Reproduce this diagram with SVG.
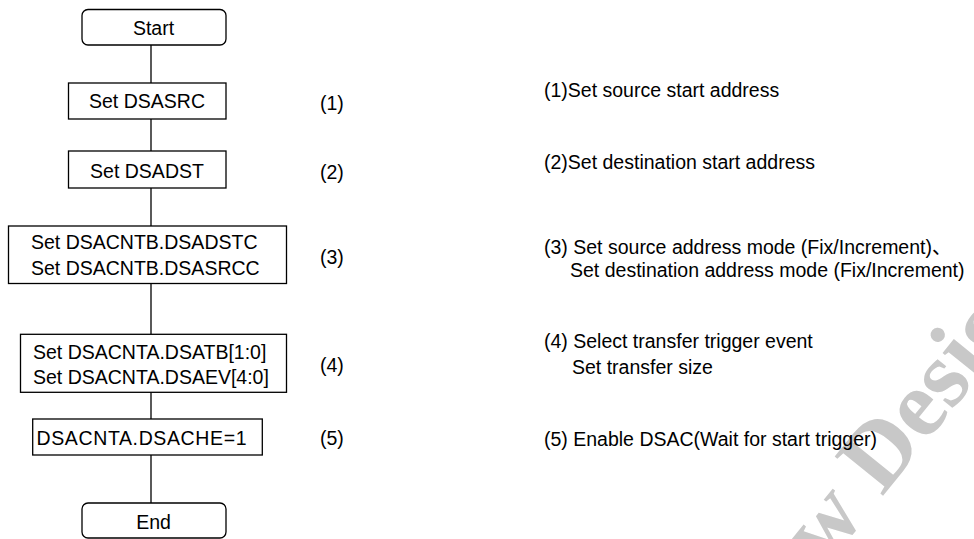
<svg xmlns="http://www.w3.org/2000/svg" width="974" height="539" viewBox="0 0 974 539">
<style>
.b{fill:#fff;stroke:#000;stroke-width:1.3}
.t{font-family:"Liberation Sans","Noto Sans CJK JP",Arial,sans-serif;font-size:19.5px;fill:#000}
.m{text-anchor:middle}
.c{stroke:#000;stroke-width:1.3;fill:none}
.wm{font-family:"Liberation Serif",serif;font-weight:bold;font-size:95px;fill:#c8c8c8}
</style>
<rect width="974" height="539" fill="#fff"/>
<g id="watermark" transform="translate(882,497) rotate(-51)"><text class="wm" x="-140" y="0">ow Design</text></g>
<g id="connectors">
<line class="c" x1="151" y1="45" x2="151" y2="83"/>
<line class="c" x1="151" y1="119" x2="151" y2="151"/>
<line class="c" x1="151" y1="188" x2="151" y2="226"/>
<line class="c" x1="151" y1="283" x2="151" y2="334"/>
<line class="c" x1="151" y1="392" x2="151" y2="419"/>
<line class="c" x1="151" y1="455" x2="151" y2="503"/>
</g>
<g id="start"><rect class="b" x="82" y="9.5" width="144" height="35.5" rx="6"/><text class="t m" x="153.5" y="34.5">Start</text></g>
<g id="n1"><rect class="b" x="68.5" y="83" width="157.5" height="36"/><text class="t m" x="147" y="108.3">Set DSASRC</text></g>
<g id="n2"><rect class="b" x="68.5" y="151" width="157.5" height="37"/><text class="t m" x="147" y="177.7">Set DSADST</text></g>
<g id="n3"><rect class="b" x="8.5" y="226" width="278" height="57.5"/><text class="t" x="31" y="249.3">Set DSACNTB.DSADSTC</text><text class="t" x="31" y="275">Set DSACNTB.DSASRCC</text></g>
<g id="n4"><rect class="b" x="20.5" y="334.3" width="266" height="58"/><text class="t" x="33" y="359.3">Set DSACNTA.DSATB[1:0]</text><text class="t" x="33" y="384.3">Set DSACNTA.DSAEV[4:0]</text></g>
<g id="n5"><rect class="b" x="32.7" y="419" width="229.6" height="36"/><text class="t" x="36.5" y="445" textLength="210">DSACNTA.DSACHE=1</text></g>
<g id="end"><rect class="b" x="82" y="503" width="144" height="35" rx="6"/><text class="t m" x="153.5" y="529">End</text></g>
<g id="labels">
<text class="t" x="320" y="110">(1)</text>
<text class="t" x="320" y="178.5">(2)</text>
<text class="t" x="320" y="263.5">(3)</text>
<text class="t" x="320" y="371.7">(4)</text>
<text class="t" x="320" y="445">(5)</text>
</g>
<g id="notes">
<text class="t" x="544" y="96.5">(1)Set source start address</text>
<text class="t" x="544" y="169">(2)Set destination start address</text>
<text class="t" x="544" y="254">(3) Set source address mode (Fix/Increment)、</text>
<text class="t" x="570" y="276.7">Set destination address mode (Fix/Increment)</text>
<text class="t" x="544" y="348.3">(4) Select transfer trigger event</text>
<text class="t" x="572" y="374">Set transfer size</text>
<text class="t" x="544" y="446">(5) Enable DSAC(Wait for start trigger)</text>
</g>
</svg>
